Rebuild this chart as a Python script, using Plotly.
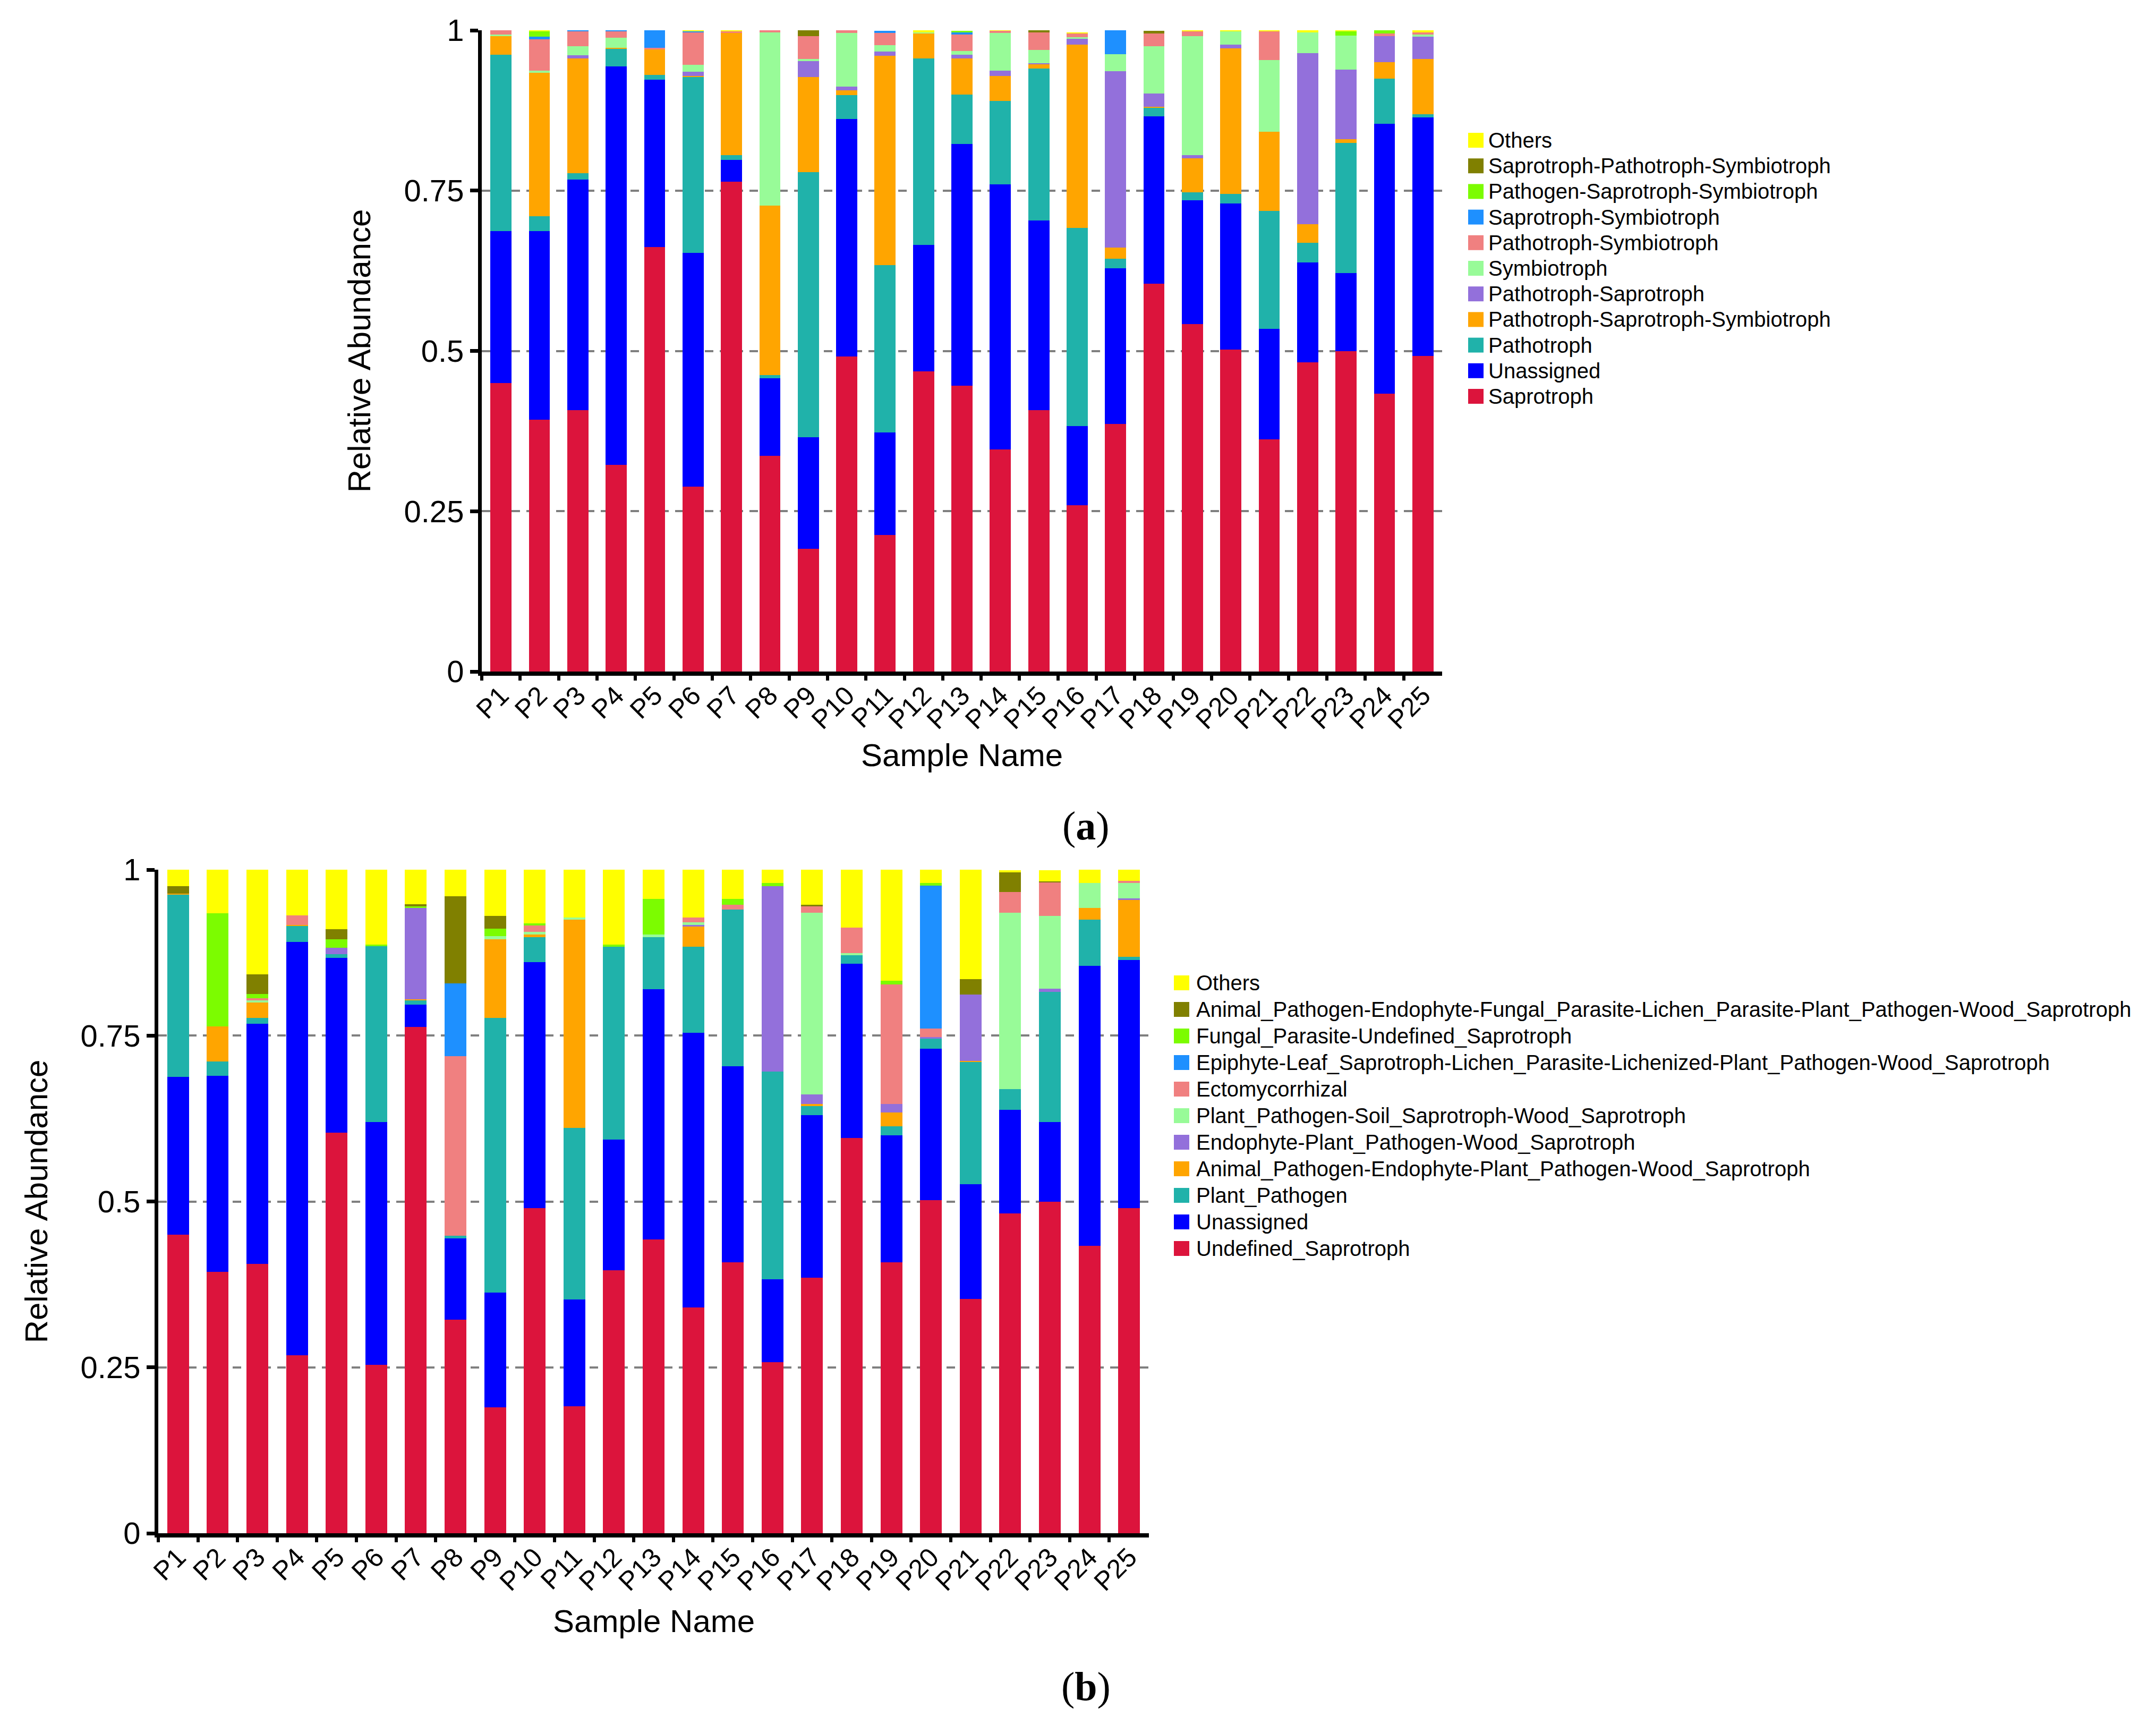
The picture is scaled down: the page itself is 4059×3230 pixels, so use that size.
import plotly.graph_objects as go

W, H = 4059, 3230

samples = ["P1", "P2", "P3", "P4", "P5", "P6", "P7", "P8", "P9", "P10",
           "P11", "P12", "P13", "P14", "P15", "P16", "P17", "P18", "P19", "P20",
           "P21", "P22", "P23", "P24", "P25"]

# ---- (a) trophic modes ----
saprotroph = [0.450, 0.393, 0.408, 0.322, 0.662, 0.288, 0.764, 0.336, 0.191, 0.491,
              0.213, 0.468, 0.446, 0.346, 0.408, 0.259, 0.386, 0.605, 0.542, 0.502,
              0.362, 0.482, 0.500, 0.433, 0.492]
unassigned_a = [0.237, 0.294, 0.359, 0.622, 0.261, 0.365, 0.034, 0.121, 0.174, 0.371,
                0.160, 0.197, 0.377, 0.414, 0.295, 0.124, 0.243, 0.261, 0.193, 0.228,
                0.172, 0.156, 0.121, 0.421, 0.372]
pathotroph = [0.275, 0.023, 0.010, 0.027, 0.007, 0.274, 0.007, 0.005, 0.414, 0.037,
              0.261, 0.291, 0.077, 0.130, 0.237, 0.309, 0.015, 0.013, 0.012, 0.015,
              0.184, 0.031, 0.203, 0.071, 0.005]
path_sap_sym = [0.029, 0.224, 0.179, 0.002, 0.040, 0.002, 0.191, 0.265, 0.148, 0.007,
                0.326, 0.039, 0.056, 0.039, 0.007, 0.286, 0.017, 0.002, 0.053, 0.227,
                0.124, 0.029, 0.006, 0.025, 0.086]
path_sap = [0.000, 0.000, 0.005, 0.000, 0.000, 0.006, 0.000, 0.000, 0.025, 0.006,
            0.007, 0.000, 0.006, 0.008, 0.002, 0.009, 0.275, 0.020, 0.005, 0.006,
            0.000, 0.266, 0.109, 0.041, 0.035]
symbiotroph = [0.002, 0.003, 0.014, 0.015, 0.000, 0.011, 0.000, 0.270, 0.003, 0.084,
               0.010, 0.002, 0.006, 0.059, 0.020, 0.002, 0.027, 0.074, 0.186, 0.020,
               0.112, 0.033, 0.053, 0.000, 0.003]
path_sym = [0.007, 0.049, 0.023, 0.010, 0.003, 0.051, 0.002, 0.003, 0.036, 0.005,
            0.019, 0.000, 0.025, 0.003, 0.028, 0.006, 0.000, 0.020, 0.007, 0.000,
            0.044, 0.000, 0.000, 0.004, 0.004]
sap_sym = [0.000, 0.004, 0.003, 0.003, 0.027, 0.001, 0.000, 0.000, 0.000, 0.000,
           0.003, 0.000, 0.004, 0.000, 0.000, 0.000, 0.038, 0.000, 0.000, 0.000,
           0.000, 0.000, 0.000, 0.000, 0.000]
pathogen_sap_sym = [0.000, 0.008, 0.000, 0.000, 0.000, 0.000, 0.000, 0.000, 0.000, 0.000,
                    0.000, 0.000, 0.002, 0.000, 0.000, 0.000, 0.000, 0.000, 0.000, 0.000,
                    0.000, 0.000, 0.006, 0.006, 0.000]
sap_path_sym = [0.000, 0.000, 0.000, 0.000, 0.000, 0.000, 0.000, 0.000, 0.010, 0.000,
                0.000, 0.000, 0.000, 0.000, 0.003, 0.000, 0.000, 0.004, 0.000, 0.000,
                0.000, 0.000, 0.000, 0.000, 0.000]
others_a = [0.000, 0.002, 0.000, 0.000, 0.000, 0.003, 0.003, 0.000, 0.000, 0.000,
            0.000, 0.003, 0.000, 0.002, 0.000, 0.002, 0.000, 0.000, 0.003, 0.003,
            0.003, 0.003, 0.003, 0.000, 0.003]

# ---- (b) guilds ----
undefined_sap = [0.450, 0.394, 0.406, 0.268, 0.604, 0.254, 0.763, 0.322, 0.190, 0.490,
                 0.191, 0.396, 0.443, 0.340, 0.408, 0.258, 0.385, 0.596, 0.408, 0.502,
                 0.353, 0.482, 0.500, 0.433, 0.490]
unassigned_b = [0.238, 0.295, 0.362, 0.623, 0.263, 0.366, 0.034, 0.122, 0.173, 0.371,
                0.161, 0.197, 0.377, 0.414, 0.296, 0.125, 0.245, 0.262, 0.192, 0.228,
                0.173, 0.156, 0.120, 0.422, 0.374]
plant_pathogen = [0.274, 0.022, 0.009, 0.024, 0.006, 0.265, 0.006, 0.004, 0.414, 0.037,
                  0.259, 0.291, 0.078, 0.130, 0.236, 0.313, 0.014, 0.013, 0.013, 0.015,
                  0.184, 0.031, 0.196, 0.070, 0.005]
animal_endo_plant_wood = [0.002, 0.053, 0.023, 0.002, 0.000, 0.000, 0.002, 0.000, 0.118, 0.004,
                          0.314, 0.000, 0.000, 0.030, 0.000, 0.000, 0.003, 0.000, 0.021, 0.000,
                          0.002, 0.000, 0.000, 0.017, 0.085]
endo_plant_wood = [0.000, 0.000, 0.000, 0.000, 0.009, 0.000, 0.137, 0.000, 0.000, 0.000,
                   0.000, 0.000, 0.000, 0.003, 0.000, 0.279, 0.014, 0.000, 0.013, 0.003,
                   0.100, 0.000, 0.005, 0.000, 0.003]
plant_soil_wood = [0.000, 0.000, 0.003, 0.000, 0.000, 0.000, 0.000, 0.000, 0.005, 0.004,
                   0.003, 0.000, 0.004, 0.004, 0.000, 0.000, 0.274, 0.003, 0.000, 0.000,
                   0.000, 0.266, 0.109, 0.038, 0.023]
ectomycorrhizal = [0.000, 0.000, 0.003, 0.014, 0.000, 0.000, 0.000, 0.271, 0.000, 0.010,
                   0.000, 0.000, 0.000, 0.007, 0.007, 0.000, 0.010, 0.039, 0.180, 0.013,
                   0.000, 0.031, 0.051, 0.000, 0.003]
epiphyte_lichen_wood = [0.000, 0.000, 0.000, 0.000, 0.000, 0.000, 0.000, 0.110, 0.000, 0.000,
                        0.000, 0.000, 0.000, 0.000, 0.000, 0.000, 0.000, 0.000, 0.000, 0.215,
                        0.000, 0.000, 0.000, 0.000, 0.000]
fungal_parasite_undef = [0.000, 0.170, 0.007, 0.000, 0.013, 0.002, 0.003, 0.000, 0.011, 0.003,
                         0.000, 0.003, 0.054, 0.000, 0.009, 0.005, 0.000, 0.000, 0.006, 0.004,
                         0.000, 0.000, 0.000, 0.000, 0.000]
animal_endo_fungal_lichen = [0.011, 0.000, 0.029, 0.000, 0.015, 0.000, 0.003, 0.131, 0.019, 0.000,
                             0.000, 0.000, 0.000, 0.000, 0.000, 0.000, 0.002, 0.000, 0.000, 0.000,
                             0.023, 0.030, 0.001, 0.000, 0.000]
others_b = [0.025, 0.067, 0.158, 0.069, 0.091, 0.114, 0.053, 0.041, 0.071, 0.083,
            0.073, 0.113, 0.045, 0.072, 0.044, 0.020, 0.054, 0.088, 0.167, 0.021,
            0.166, 0.003, 0.017, 0.020, 0.018]

colors = ["#DC143C", "#0000FF", "#20B2AA", "#FFA500", "#9370DB", "#98FB98",
          "#F08080", "#1E90FF", "#7CFC00", "#808000", "#FFFF00"]

names_a = ["Saprotroph", "Unassigned", "Pathotroph", "Pathotroph-Saprotroph-Symbiotroph",
           "Pathotroph-Saprotroph", "Symbiotroph", "Pathotroph-Symbiotroph",
           "Saprotroph-Symbiotroph", "Pathogen-Saprotroph-Symbiotroph",
           "Saprotroph-Pathotroph-Symbiotroph", "Others"]
values_a = [saprotroph, unassigned_a, pathotroph, path_sap_sym, path_sap, symbiotroph,
            path_sym, sap_sym, pathogen_sap_sym, sap_path_sym, others_a]

names_b = ["Undefined_Saprotroph", "Unassigned", "Plant_Pathogen",
           "Animal_Pathogen-Endophyte-Plant_Pathogen-Wood_Saprotroph",
           "Endophyte-Plant_Pathogen-Wood_Saprotroph",
           "Plant_Pathogen-Soil_Saprotroph-Wood_Saprotroph", "Ectomycorrhizal",
           "Epiphyte-Leaf_Saprotroph-Lichen_Parasite-Lichenized-Plant_Pathogen-Wood_Saprotroph",
           "Fungal_Parasite-Undefined_Saprotroph",
           "Animal_Pathogen-Endophyte-Fungal_Parasite-Lichen_Parasite-Plant_Pathogen-Wood_Saprotroph",
           "Others"]
values_b = [undefined_sap, unassigned_b, plant_pathogen, animal_endo_plant_wood,
            endo_plant_wood, plant_soil_wood, ectomycorrhizal, epiphyte_lichen_wood,
            fungal_parasite_undef, animal_endo_fungal_lichen, others_b]

fig = go.Figure()
for name, vals, col in zip(names_a, values_a, colors):
    fig.add_trace(go.Bar(x=samples, y=vals, name=name, marker_color=col,
                         marker_line_width=0, width=0.55, xaxis="x", yaxis="y",
                         showlegend=False))
for name, vals, col in zip(names_b, values_b, colors):
    fig.add_trace(go.Bar(x=samples, y=vals, name=name, marker_color=col,
                         marker_line_width=0, width=0.55, xaxis="x2", yaxis="y2",
                         showlegend=False))


def y_axis(domain, anchor, standoff):
    return dict(domain=domain, anchor=anchor, range=[0, 1], fixedrange=True,
                tickmode="array", tickvals=[0, 0.25, 0.5, 0.75, 1],
                ticktext=["0", "0.25", "0.5", "0.75", "1"],
                ticks="outside", ticklen=15, tickwidth=7, tickcolor="black",
                showline=True, linewidth=7, linecolor="black",
                showgrid=False, zeroline=False, automargin=False,
                minor=dict(tickmode="array", tickvals=[0.25, 0.5, 0.75], ticks="",
                           showgrid=True, gridcolor="#7f7f7f", gridwidth=3.5,
                           griddash="16px,12px"),
                tickfont=dict(size=58, color="black"),
                title=dict(text="Relative Abundance", font=dict(size=60, color="black"),
                           standoff=standoff))


def x_axis(domain, anchor):
    return dict(domain=domain, anchor=anchor, type="category", tickangle=-45,
                ticks="outside", tickson="boundaries", ticklen=9, tickwidth=6,
                tickcolor="black", showline=True, linewidth=8, linecolor="black",
                showgrid=False, automargin=False, fixedrange=True,
                ticklabelstandoff=-12,
                tickfont=dict(size=50, color="black"))


top_x = [907 / W, 2715 / W]
bot_x = [298 / W, 2163 / W]

fig.update_layout(
    width=W, height=H, autosize=False,
    margin=dict(l=0, r=0, t=0, b=0),
    paper_bgcolor="white", plot_bgcolor="white",
    font=dict(family="Liberation Sans, Arial, sans-serif", color="black"),
    barmode="stack",
    xaxis=x_axis(top_x, "y"),
    yaxis=y_axis([1 - 1264 / H, 1 - 57 / H], "x", 46),
    xaxis2=x_axis(bot_x, "y2"),
    yaxis2=y_axis([1 - 2886 / H, 1 - 1637 / H], "x2", 45),
)

shapes = []
annotations = []

# x-axis titles sit closer to the rotated labels than plotly's title standoff allows
for dom, yc in [(top_x, 1422), (bot_x, 3051)]:
    annotations.append(dict(text="Sample Name", xref="paper", yref="paper",
                            x=(dom[0] + dom[1]) / 2, y=1 - yc / H,
                            xanchor="center", yanchor="middle", showarrow=False,
                            font=dict(size=60, color="black")))


# legends (top entry = last stacked series)
def add_legend(names, x_box, x_text, y_first, step):
    for i, (name, col) in enumerate(reversed(list(zip(names, colors)))):
        yc = y_first + i * step
        shapes.append(dict(type="rect", xref="paper", yref="paper",
                           x0=x_box / W, x1=(x_box + 29) / W,
                           y0=1 - (yc + 14) / H, y1=1 - (yc - 14) / H,
                           fillcolor=col, line=dict(width=0)))
        annotations.append(dict(text=name, xref="paper", yref="paper",
                                x=x_text / W, y=1 - yc / H, xanchor="left",
                                yanchor="middle", showarrow=False,
                                font=dict(size=40, color="black")))


add_legend(names_a, 2764, 2800, 264, 48.2)
add_legend(names_b, 2210, 2250, 1850, 50)

for label, yc in [("a", 1554), ("b", 3174)]:
    annotations.append(dict(text="(<b>" + label + "</b>)", xref="paper", yref="paper",
                            x=2044 / W, y=1 - yc / H, xanchor="center", yanchor="middle",
                            showarrow=False,
                            font=dict(size=76, family="Liberation Serif, Times New Roman, serif",
                                      color="black")))

fig.update_layout(shapes=shapes, annotations=annotations)

# page margin off so the figure sits at the window origin
fig.write_html("out.html", config={"displayModeBar": False},
               post_script="document.body.style.margin='0px';")
